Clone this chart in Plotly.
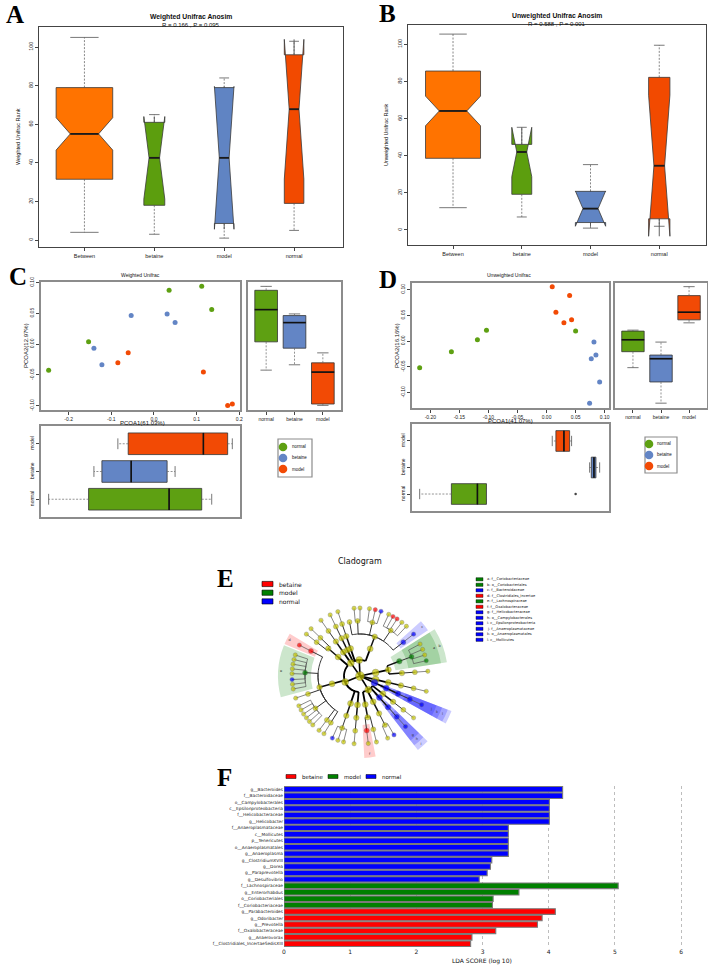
import plotly.graph_objects as go
import numpy as np

W, H = 708, 967
def X(p): return p / W
def Y(p): return 1 - p / H

# ---------------- Panel A / B : ANOSIM box statistics ----------------
anosim_groups = ["Between", "betaine", "model", "normal"]
anosim_colors = ["#FF7300", "#5C9E0E", "#6084C3", "#F24A00"]

wA_q1 = [31.5, 18.0, 8.6, 19.0]
wA_med = [55.0, 42.6, 42.6, 67.8]
wA_q3 = [79.0, 61.0, 79.0, 96.0]
wA_low = [4.0, 3.0, 1.0, 5.0]
wA_high = [105.0, 65.0, 84.0, 103.0]
wA_notch = [8.4, 21.4, 37.0, 36.2]

uB_q1 = [38.6, 19.2, 4.0, 6.0]
uB_med = [64.1, 42.0, 11.5, 34.6]
uB_q3 = [85.6, 46.1, 20.8, 82.2]
uB_low = [12.0, 7.0, 1.0, 2.0]
uB_high = [105.5, 55.3, 35.2, 99.5]
uB_notch = [8.0, 13.3, 9.5, 38.0]

# ---------------- Panel C / D : PCoA coordinates ----------------
pcoa_groups = ["normal", "betaine", "model"]
pcoa_colors = ["#5EA012", "#6385C5", "#F24A05"]

wC_normal_pc1 = [0.0355, 0.1119, 0.1353, -0.1532, -0.2468]
wC_normal_pc2 = [0.0876, 0.0940, 0.0562, 0.0038, -0.0422]
wC_betaine_pc1 = [-0.0534, 0.0308, 0.0495, -0.1407, -0.1220]
wC_betaine_pc2 = [0.0465, 0.0492, 0.0351, -0.0065, -0.0335]
wC_model_pc1 = [-0.0604, -0.0846, 0.1158, 0.1727, 0.1836]
wC_model_pc2 = [-0.0141, -0.0303, -0.0454, -0.0995, -0.0973]

uD_normal_pc1 = [-0.1034, -0.1190, -0.1638, -0.2184, 0.0500]
uD_normal_pc2 = [0.0213, 0.0026, -0.0206, -0.0516, 0.0194]
uD_betaine_pc1 = [0.0816, 0.0850, 0.0770, 0.0914, 0.0741]
uD_betaine_pc2 = [-0.0019, -0.0271, -0.0342, -0.0794, -0.1206]
uD_model_pc1 = [0.0098, 0.0397, 0.0161, 0.0431, 0.0299]
uD_model_pc2 = [0.1058, 0.0884, 0.0561, 0.0413, 0.0355]

# ---------------- Panel F : LDA scores ----------------
lda_labels = ["g__Bacteroides", "f__Bacteroidaceae", "o__Campylobacterales", "c__Epsilonproteobacteria",
              "f__Helicobacteraceae", "g__Helicobacter", "f__Anaeroplasmataceae", "c__Mollicutes",
              "p__Tenericutes", "o__Anaeroplasmatales", "g__Anaeroplasma", "g__ClostridiumXVIII",
              "g__Dorea", "g__Paraprevotella", "g__Desulfovibrio", "f__Lachnospiraceae",
              "g__Enterorhabdus", "o__Coriobacteriales", "f__Coriobacteriaceae", "g__Parabacteroides",
              "g__Odoribacter", "g__Prevotella", "f__Oxalobacteraceae", "g__Anaerovorax",
              "f__Clostridiales_IncertaeSedisXIII"]
lda_values = [4.21, 4.21, 4.01, 4.01, 4.01, 4.01, 3.39, 3.39, 3.39, 3.39, 3.39, 3.14,
              3.12, 3.07, 2.95, 5.05, 3.55, 3.16, 3.15, 4.10, 3.90, 3.83, 3.20, 2.84, 2.82]
lda_groups = ["normal"] * 15 + ["model"] * 4 + ["betaine"] * 6
lefse_groups = ["betaine", "model", "normal"]
lefse_colors = ["#FF0000", "#008000", "#0000FF"]

# ---------------- Panel E : cladogram taxa (depth-first order) ----------------
clade_taxa = [
    "p__Actinobacteria", "c__Actinobacteria",
    "o__Bifidobacteriales", "f__Bifidobacteriaceae", "g__Bifidobacterium",
    "o__Coriobacteriales", "f__Coriobacteriaceae", "g__Enterorhabdus", "g__Olsenella", "g__Adlercreutzia", "g__Eggerthella",
    "p__Bacteroidetes", "c__Bacteroidia", "o__Bacteroidales",
    "f__Bacteroidaceae", "g__Bacteroides",
    "f__Porphyromonadaceae", "g__Butyricimonas", "g__Barnesiella", "g__Parabacteroides", "g__Odoribacter", "g__Tannerella",
    "f__Prevotellaceae", "g__Paraprevotella", "g__Prevotella", "g__Hallella",
    "f__Rikenellaceae", "g__Alistipes", "g__Rikenella",
    "f__S24_7",
    "c__Flavobacteriia", "o__Flavobacteriales", "f__Flavobacteriaceae", "g__Flavobacterium",
    "c__Sphingobacteriia", "o__Sphingobacteriales", "f__Sphingobacteriaceae", "g__Pedobacter",
    "p__Deferribacteres", "c__Deferribacteres", "o__Deferribacterales", "f__Deferribacteraceae", "g__Mucispirillum",
    "p__Firmicutes",
    "c__Bacilli", "o__Lactobacillales", "f__Lactobacillaceae", "g__Lactobacillus", "f__Streptococcaceae", "g__Lactococcus",
    "c__Clostridia", "o__Clostridiales",
    "f__Clostridiales_IncertaeSedisXIII", "g__Anaerovorax",
    "f__Lachnospiraceae", "g__Roseburia", "g__Coprococcus", "g__Blautia", "g__Acetitomaculum", "g__Marvinbryantia",
    "g__Dorea", "g__Butyrivibrio", "g__Lachnospiracea_incertae_sedis",
    "f__Peptococcaceae", "g__Peptococcus",
    "f__Ruminococcaceae", "g__Oscillibacter", "g__Ruminococcus", "g__Butyricicoccus", "g__Anaerotruncus",
    "g__Flavonifractor", "g__Intestinimonas",
    "f__Peptostreptococcaceae", "g__Romboutsia",
    "f__Clostridiaceae_1", "g__Clostridium_sensu_stricto",
    "c__Erysipelotrichia", "o__Erysipelotrichales", "f__Erysipelotrichaceae", "g__ClostridiumXVIII", "g__Turicibacter", "g__Allobaculum",
    "c__Negativicutes", "o__Selenomonadales", "f__Veillonellaceae", "g__Phascolarctobacterium",
    "p__Proteobacteria",
    "c__Betaproteobacteria", "o__Burkholderiales", "f__Oxalobacteraceae", "g__Oxalobacter", "f__Sutterellaceae", "g__Parasutterella",
    "c__Deltaproteobacteria", "o__Desulfovibrionales", "f__Desulfovibrionaceae", "g__Bilophila", "g__Desulfovibrio",
    "c__Epsilonproteobacteria", "o__Campylobacterales", "f__Helicobacteraceae", "g__Helicobacter",
    "c__Gammaproteobacteria", "o__Enterobacteriales", "f__Enterobacteriaceae", "g__Escherichia",
    "p__Tenericutes", "c__Mollicutes", "o__Anaeroplasmatales", "f__Anaeroplasmataceae", "g__Anaeroplasma",
    "p__Verrucomicrobia", "c__Verrucomicrobiae", "o__Verrucomicrobiales", "f__Verrucomicrobiaceae", "g__Akkermansia",
]
# angular position (degrees, counter-clockwise from east) of every terminal clade, in order
leaf_angles = [4, 13, 18, 23, 28, 38, 47, 52, 57, 61, 65, 72, 77, 82, 90, 95, 101, 109, 116, 125,
               136, 142, 153, 162, 166, 170, 174, 178, 183, 187, 191, 199, 206, 210, 214, 218, 222, 226,
               233, 238, 246, 251, 256, 265, 277, 284, 294, 300, 312, 322, 335, 347]
clade_legend_taxa = ["f__Coriobacteriaceae", "o__Coriobacteriales", "f__Bacteroidaceae",
                     "f__Clostridiales_IncertaeSedisXIII", "f__Lachnospiraceae", "f__Oxalobacteraceae",
                     "f__Helicobacteraceae", "o__Campylobacterales", "c__Epsilonproteobacteria",
                     "f__Anaeroplasmataceae", "o__Anaeroplasmatales", "c__Mollicutes"]
clade_legend_text = ["a: f__Coriobacteriaceae", "b: o__Coriobacteriales", "c: f__Bacteroidaceae",
                     "d: f__Clostridiales_Incertae", "e: f__Lachnospiraceae", "f: f__Oxalobacteraceae",
                     "g: f__Helicobacteraceae", "h: o__Campylobacterales", "i: c__Epsilonproteobacteria",
                     "j: f__Anaeroplasmataceae", "k: o__Anaeroplasmatales", "l: c__Mollicutes"]

# =====================================================================
fig = go.Figure()
RFONT = "Liberation Sans, Arial, sans-serif"
MFONT = "DejaVu Sans, sans-serif"
annos, shapes = [], []

def txt(x, y, s, size, family=RFONT, **kw):
    d = dict(x=X(x), y=Y(y), xref="paper", yref="paper", text=s, showarrow=False,
             xanchor="center", yanchor="middle",
             font=dict(size=size, family=family, color=kw.pop("color", "#111")))
    d.update(kw)
    annos.append(d)

def seg_trace(xs, ys, xa, ya, color, width, dash=None):
    fig.add_trace(go.Scatter(x=xs, y=ys, mode="lines", xaxis=xa, yaxis=ya, hoverinfo="skip",
                             line=dict(color=color, width=width, dash=dash)))

# ---- A / B ----
def add_anosim(xa, ya, q1, med, q3, lo, hi, notch, widths):
    wx, wy, cx, cy, mx, my = [], [], [], [], [], []
    for i in range(len(anosim_groups)):
        p, w = i + 1, widths[i]
        fig.add_trace(go.Box(x=[p], q1=[q1[i]], median=[med[i]], q3=[q3[i]],
                             lowerfence=[q1[i]], upperfence=[q3[i]], notched=True, notchspan=[notch[i]],
                             notchwidth=0.25, width=w, fillcolor=anosim_colors[i],
                             line=dict(color="#3a3a3a", width=0.8), whiskerwidth=0, boxpoints=False,
                             xaxis=xa, yaxis=ya, hoverinfo="skip"))
        wx += [p, p, None, p, p, None]
        wy += [q3[i], hi[i], None, q1[i], lo[i], None]
        cx += [p - w / 4, p + w / 4, None, p - w / 4, p + w / 4, None]
        cy += [hi[i], hi[i], None, lo[i], lo[i], None]
        mx += [p - w / 4, p + w / 4, None]
        my += [med[i], med[i], None]
    seg_trace(wx, wy, xa, ya, "#555", 0.7, "2px,1.5px")
    seg_trace(cx, cy, xa, ya, "#555", 0.8)
    seg_trace(mx, my, xa, ya, "#1a1a1a", 1.8)

add_anosim("x", "y", wA_q1, wA_med, wA_q3, wA_low, wA_high, wA_notch, [0.81, 0.30, 0.28, 0.28])
add_anosim("x2", "y2", uB_q1, uB_med, uB_q3, uB_low, uB_high, uB_notch, [0.80, 0.29, 0.44, 0.31])

# ---- R-style box statistics ----
def rstats(v):
    s = sorted(v); n = len(s)
    n4 = np.floor((n + 3) / 2) / 2
    d = [1, n4, (n + 1) / 2, n + 1 - n4, n]
    f = [0.5 * (s[int(np.floor(k - 1))] + s[int(np.ceil(k - 1))]) for k in d]
    iqr = f[3] - f[1]
    lo_l, hi_l = f[1] - 1.5 * iqr, f[3] + 1.5 * iqr
    ins = [x for x in s if lo_l <= x <= hi_l]
    out = [x for x in s if x < lo_l or x > hi_l]
    return f[1], f[2], f[3], min(ins), max(ins), out

def add_boxes(xa, ya, series, horizontal, w):
    wx, wy, cx, cy, mx, my, ox, oy = [], [], [], [], [], [], [], []
    for i, vals in enumerate(series):
        p = i + 1
        q1, md, q3, lo, hi, out = rstats(vals)
        kw = dict(q1=[q1], median=[md], q3=[q3], lowerfence=[q1], upperfence=[q3], width=w,
                  fillcolor=pcoa_colors[i], line=dict(color="#333", width=0.8), whiskerwidth=0,
                  boxpoints=False, xaxis=xa, yaxis=ya, hoverinfo="skip")
        if horizontal:
            fig.add_trace(go.Box(y=[p], orientation="h", **kw))
        else:
            fig.add_trace(go.Box(x=[p], **kw))
        a = [p, p, None, p, p, None]
        b = [q3, hi, None, q1, lo, None]
        c = [p - w / 4, p + w / 4, None, p - w / 4, p + w / 4, None]
        dd = [hi, hi, None, lo, lo, None]
        m1 = [p - w / 2, p + w / 2, None]
        m2 = [md, md, None]
        if horizontal:
            wx += b; wy += a; cx += dd; cy += c; mx += m2; my += m1
            ox += out; oy += [p] * len(out)
        else:
            wx += a; wy += b; cx += c; cy += dd; mx += m1; my += m2
            ox += [p] * len(out); oy += out
    seg_trace(wx, wy, xa, ya, "#666", 0.7, "2px,1.5px")
    seg_trace(cx, cy, xa, ya, "#555", 0.8)
    seg_trace(mx, my, xa, ya, "#111", 1.6)
    if ox:
        fig.add_trace(go.Scatter(x=ox, y=oy, mode="markers", xaxis=xa, yaxis=ya, hoverinfo="skip",
                                 marker=dict(size=2.5, color="#444")))

def add_pcoa(xs, ys, xa_s, ya_s, xa_r, ya_r, xa_b, ya_b):
    for i in range(3):
        fig.add_trace(go.Scatter(x=xs[i], y=ys[i], mode="markers", xaxis=xa_s, yaxis=ya_s,
                                 hoverinfo="skip", marker=dict(size=5, color=pcoa_colors[i])))
    add_boxes(xa_r, ya_r, ys, False, 0.8)
    add_boxes(xa_b, ya_b, xs, True, 0.78)

add_pcoa([wC_normal_pc1, wC_betaine_pc1, wC_model_pc1], [wC_normal_pc2, wC_betaine_pc2, wC_model_pc2],
         "x3", "y3", "x4", "y4", "x5", "y5")
add_pcoa([uD_normal_pc1, uD_betaine_pc1, uD_model_pc1], [uD_normal_pc2, uD_betaine_pc2, uD_model_pc2],
         "x6", "y6", "x7", "y7", "x8", "y8")

# ---- F : LDA bars ----
gcol = dict(zip(lefse_groups, lefse_colors))
fig.add_trace(go.Bar(x=lda_values, y=list(range(len(lda_labels))), orientation="h", xaxis="x9", yaxis="y9",
                     marker=dict(color=[gcol[g] for g in lda_groups], line=dict(color="#7a7a7a", width=1.1)),
                     width=0.86, hoverinfo="skip"))

# ---- E : cladogram ----
lev_of = {"p": 1, "c": 2, "o": 3, "f": 4, "g": 5}
level_r = [0, 16, 29, 42, 55, 68]
nodes = [dict(name="root", level=0, parent=None, children=[])]
last = {0: 0}
for nm in clade_taxa:
    lv = lev_of[nm[0]]
    par = last[lv - 1]
    idx = len(nodes)
    nodes.append(dict(name=nm, level=lv, parent=par, children=[]))
    nodes[par]["children"].append(idx)
    last[lv] = idx
    for k in [k for k in last if k > lv]:
        del last[k]
li = 0
for nd in nodes:
    if not nd["children"]:
        nd["theta"] = leaf_angles[li]; nd["lmin"] = nd["lmax"] = leaf_angles[li]; li += 1
for nd in reversed(nodes):
    if nd["children"]:
        ch = [nodes[c] for c in nd["children"]]
        nd["theta"] = (min(c["theta"] for c in ch) + max(c["theta"] for c in ch)) / 2
        nd["lmin"] = min(c["lmin"] for c in ch); nd["lmax"] = max(c["lmax"] for c in ch)
biomarker = dict(zip(lda_labels, lda_groups))

# shaded sectors
shade_rgba = {"betaine": "rgba(255,0,0,0.20)", "model": "rgba(0,128,0,0.20)", "normal": "rgba(0,0,255,0.20)"}
outer_r = [0, 98, 94, 88, 82]
letter_of = dict(zip(clade_legend_taxa, "abcdefghijkl"))
for nd in nodes:
    g = biomarker.get(nd["name"])
    if g and 1 <= nd["level"] <= 4:
        base = level_r[max(nd["level"], 2)] - 6
        fig.add_trace(go.Barpolar(r=[outer_r[nd["level"]] - base], base=[base],
                                  theta=[(nd["lmin"] + nd["lmax"]) / 2],
                                  width=[nd["lmax"] - nd["lmin"] + 8],
                                  marker=dict(color=shade_rgba[g], line=dict(width=0)),
                                  hoverinfo="skip", subplot="polar"))

# branches: arc at the parent's radius, then radial segment to the child
seg = {k: ([], []) for k in range(5)}
for nd in nodes[1:]:
    p = nodes[nd["parent"]]
    rp, rc = level_r[p["level"]], level_r[nd["level"]]
    rr, tt = seg[p["level"]]
    if rp > 0:
        n = max(2, int(abs(nd["theta"] - p["theta"]) / 2) + 2)
        rr += [rp] * n + [None]
        tt += list(np.linspace(p["theta"], nd["theta"], n)) + [None]
    rr += [rp, rc, None]; tt += [nd["theta"], nd["theta"], None]
lw = [1.6, 1.8, 1.5, 1.0, 0.7]
lc = ["#000", "#000", "#111", "#333", "#555"]
for k in range(5):
    rr, tt = seg[k]
    fig.add_trace(go.Scatterpolar(r=rr, theta=tt, mode="lines", line=dict(color=lc[k], width=lw[k]),
                                  hoverinfo="skip", subplot="polar"))
# nodes
node_size = [9, 7, 6, 5.5, 5, 4.3]
for grp, col in [(None, "#C4C400"), ("betaine", "#FF0000"), ("model", "#008000"), ("normal", "#0000FF")]:
    sel = [nd for nd in nodes if biomarker.get(nd["name"]) == grp]
    fig.add_trace(go.Scatterpolar(r=[level_r[nd["level"]] for nd in sel], theta=[nd["theta"] for nd in sel],
                                  mode="markers", hoverinfo="skip", subplot="polar",
                                  marker=dict(size=[node_size[nd["level"]] for nd in sel], color=col,
                                              line=dict(color="#555", width=0.4))))
# letters in the shaded sectors
lr, lt, ls = [], [], []
for nd in nodes:
    if nd["name"] in letter_of:
        lr.append(outer_r[nd["level"]] - 3); lt.append((nd["lmin"] + nd["lmax"]) / 2); ls.append(letter_of[nd["name"]])
fig.add_trace(go.Scatterpolar(r=lr, theta=lt, mode="text", text=ls, textfont=dict(size=3.5, color="#333", family=MFONT),
                              hoverinfo="skip", subplot="polar"))

# =====================================================================
# axes
def mk(dom, rng, anchor, **kw):
    d = dict(domain=dom, range=rng, anchor=anchor, showgrid=False, zeroline=False, showline=True, mirror=True,
             linecolor="#444", linewidth=1, ticks="outside", ticklen=3, tickwidth=0.7, tickcolor="#444",
             tickfont=dict(size=5.5, family=RFONT, color="#222"), automargin=False, fixedrange=True)
    d.update(kw)
    return d

G = dict(linecolor="#8c8c8c", linewidth=1.5, tickfont=dict(size=5, family=RFONT, color="#222"))
cats = dict(tickvals=[1, 2, 3], ticktext=pcoa_groups)
noT = dict(showticklabels=False, ticks="")
cx_ticks = dict(tickvals=[-0.2, -0.1, 0, 0.1, 0.2], ticktext=["-0.2", "-0.1", "0.0", "0.1", "0.2"])
cy_ticks = dict(tickvals=[-0.1, -0.05, 0, 0.05, 0.1], ticktext=["-0.10", "-0.05", "0.00", "0.05", "0.10"], tickangle=-90)
dx_ticks = dict(tickvals=[-0.2, -0.15, -0.1, -0.05, 0, 0.05, 0.1],
                ticktext=["-0.20", "-0.15", "-0.10", "-0.05", "0.00", "0.05", "0.10"])
CXR, CYR = [-0.2647, 0.2016], [-0.107, 0.1011]
DXR, DYR = [-0.2316, 0.1075], [-0.130, 0.1129]

fig.update_layout(
    xaxis=mk([X(39), X(343)], [0.35, 4.7], "y", tickvals=[1, 2, 3, 4], ticktext=anosim_groups),
    yaxis=mk([Y(247), Y(27)], [-3.6, 110.4], "x", tickvals=[0, 20, 40, 60, 80, 100], tickangle=-90),
    xaxis2=mk([X(408), X(706)], [0.345, 4.68], "y2", tickvals=[1, 2, 3, 4], ticktext=anosim_groups),
    yaxis2=mk([Y(245), Y(25)], [-8.1, 110.4], "x2", tickvals=[0, 20, 40, 60, 80, 100], tickangle=-90),
    xaxis3=mk([X(41), X(240)], CXR, "y3", **G, **cx_ticks),
    yaxis3=mk([Y(410), Y(282)], CYR, "x3", **G, **cy_ticks),
    xaxis4=mk([X(248), X(341)], [0.36, 3.64], "y4", **G, **cats),
    yaxis4=mk([Y(410), Y(282)], CYR, "x4", **G, **noT),
    xaxis5=mk([X(41), X(240)], CXR, "y5", **G, **noT),
    yaxis5=mk([Y(517), Y(426)], [0.36, 3.64], "x5", **G, **cats, tickangle=-90),
    xaxis6=mk([X(412), X(609)], DXR, "y6", **G, **dx_ticks),
    yaxis6=mk([Y(408), Y(283)], DYR, "x6", **G, **cy_ticks),
    xaxis7=mk([X(615), X(707)], [0.36, 3.64], "y7", **G, **cats),
    yaxis7=mk([Y(408), Y(283)], DYR, "x7", **G, **noT),
    xaxis8=mk([X(412), X(609)], DXR, "y8", **G, **noT),
    yaxis8=mk([Y(511), Y(424)], [0.36, 3.64], "x8", **G, **cats, tickangle=-90),
    xaxis9=dict(domain=[X(284), X(691)], range=[0, 6.15], anchor="y9", showgrid=True, gridcolor="#bdbdbd",
                griddash="dot", gridwidth=0.8, zeroline=False, showline=False, tickvals=list(range(7)),
                ticks="", tickfont=dict(size=6, family=MFONT, color="#222"), automargin=False, fixedrange=True),
    yaxis9=dict(domain=[Y(947), Y(786)], range=[len(lda_labels) - 0.5, -0.5], anchor="x9", showgrid=False,
                zeroline=False, showline=False, tickvals=list(range(len(lda_labels))), ticktext=lda_labels,
                ticks="", tickfont=dict(size=4.3, family=MFONT, color="#222"), automargin=False, fixedrange=True),
    polar=dict(domain=dict(x=[X(260), X(460)], y=[Y(776), Y(576)]), bgcolor="rgba(0,0,0,0)",
               radialaxis=dict(range=[0, 100], visible=False), angularaxis=dict(visible=False)),
)

# ---- text annotations ----
txt(191, 17, "<b>Weighted Unifrac Anosim</b>", 6.8)
txt(191, 24.5, "R = 0.166 , P = 0.095", 6)
txt(557, 16, "<b>Unweighted Unifrac Anosim</b>", 6.8)
txt(557, 23.5, "R = 0.588 , P = 0.001", 6)
txt(18, 137, "Weighted Unifrac Rank", 5.5, textangle=-90)
txt(386, 135, "Unweighted Unifrac Rank", 5.5, textangle=-90)
txt(140, 275, "Weighted Unifrac", 5)
txt(142, 423, "PCOA1(61.03%)", 6)
txt(26, 346, "PCOA2(12.97%)", 6, textangle=-90)
txt(509, 275, "Unweighted Unifrac", 5)
txt(510, 421, "PCOA1(41.07%)", 6)
txt(397, 346, "PCOA2(16.16%)", 6, textangle=-90)
txt(360, 561, "Cladogram", 8, family=MFONT)
txt(482, 961, "LDA SCORE (log 10)", 6, family=MFONT)

for lab, (x, y) in zip("ABCDEF", [(15, 14), (388, 13), (18, 277), (388, 280), (225, 578), (224, 777)]):
    txt(x, y, "<b>%s</b>" % lab, 25, family="Liberation Serif, Times New Roman, serif", color="#000")

# C / D legends
for (bx0, by0, bx1, by1, cxp, cy0, tx) in [(278, 439, 312, 477, 283, 447, 290), (645, 437, 677, 473, 649, 444, 655)]:
    shapes.append(dict(type="rect", xref="paper", yref="paper", x0=X(bx0), x1=X(bx1), y0=Y(by1), y1=Y(by0),
                       line=dict(color="#8c8c8c", width=1.2), fillcolor="white"))
    for i, g in enumerate(pcoa_groups):
        cyp = cy0 + 11 * i
        shapes.append(dict(type="circle", xref="paper", yref="paper", x0=X(cxp - 4.3), x1=X(cxp + 4.3),
                           y0=Y(cyp + 4.3), y1=Y(cyp - 4.3), line=dict(width=0), fillcolor=pcoa_colors[i]))
        txt(tx, cyp, g, 4.5, xanchor="left")

# E legends
for i, g in enumerate(lefse_groups):
    yc = 584 + 8.7 * i
    shapes.append(dict(type="rect", xref="paper", yref="paper", x0=X(262), x1=X(273), y0=Y(yc + 2.6), y1=Y(yc - 2.6),
                       line=dict(color="#000", width=0.6), fillcolor=lefse_colors[i]))
    txt(277, yc, g, 6, family=MFONT, xanchor="left")
for i, (tx_, tax) in enumerate(zip(clade_legend_text, clade_legend_taxa)):
    yc = 579.3 + 5.5 * i
    shapes.append(dict(type="rect", xref="paper", yref="paper", x0=X(476), x1=X(483), y0=Y(yc + 1.6), y1=Y(yc - 1.6),
                       line=dict(color="#000", width=0.4), fillcolor=gcol[biomarker[tax]]))
    txt(485, yc, tx_, 3.6, family=MFONT, xanchor="left")

# F legend
for i, (g, x0) in enumerate(zip(lefse_groups, [286, 328, 366])):
    shapes.append(dict(type="rect", xref="paper", yref="paper", x0=X(x0), x1=X(x0 + 10), y0=Y(778.5), y1=Y(774.5),
                       line=dict(color="#000", width=0.5), fillcolor=lefse_colors[i]))
    txt(x0 + 14, 776.5, g, 5.5, family=MFONT, xanchor="left")

fig.update_layout(width=W, height=H, margin=dict(l=0, r=0, t=0, b=0), showlegend=False,
                  plot_bgcolor="white", paper_bgcolor="white", annotations=annos, shapes=shapes)
fig.write_html("out.html", config={"displayModeBar": False},
               post_script="document.body.style.margin='0px';")
